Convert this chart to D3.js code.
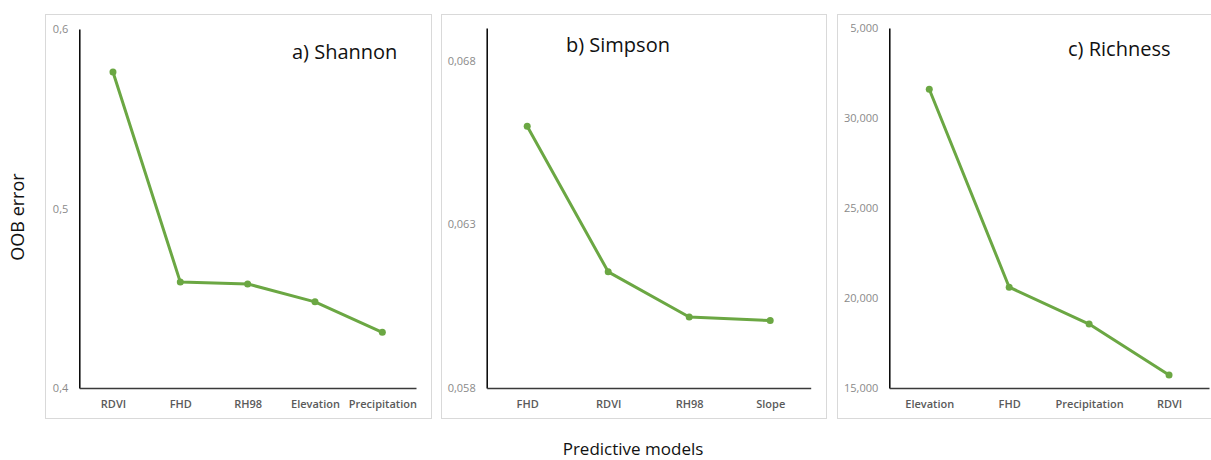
<!DOCTYPE html>
<html>
<head>
<meta charset="utf-8">
<script src="https://cdn.jsdelivr.net/npm/d3@7"></script>
<style>
  body { margin: 0; background: #fff; }
  svg { display: block; }
</style>
</head>
<body>
<svg id="chart" width="1211" height="460"></svg>
<script>
// data
var shannonModels = ["RDVI", "FHD", "RH98", "Elevation", "Precipitation"];
var shannonOOB = [0.576, 0.459, 0.458, 0.448, 0.431];
var shannonTicks = [0.4, 0.5, 0.6];

var simpsonModels = ["FHD", "RDVI", "RH98", "Slope"];
var simpsonOOB = [0.0660, 0.06155, 0.06017, 0.06006];
var simpsonTicks = [0.058, 0.063, 0.068];

var richnessModels = ["Elevation", "FHD", "Precipitation", "RDVI"];
var richnessOOB = [31600, 20600, 18550, 15720];
var richnessTicks = [15000, 20000, 25000, 30000, 35000];

var lineColor = "#6ba743";
var svg = d3.select("#chart");

var commaDec = function (f) {
  return function (d) { return d3.format(f)(d).replace(".", ","); };
};

var panels = [
  {
    name: "a) Shannon", models: shannonModels, values: shannonOOB, ticks: shannonTicks,
    domain: [0.4, 0.6], fmt: commaDec(".1f"),
    frame: [45, 14, 431, 418], plot: [79.3, 29, 416, 388], title: [292, 59]
  },
  {
    name: "b) Simpson", models: simpsonModels, values: simpsonOOB, ticks: simpsonTicks,
    domain: [0.058, 0.069], fmt: commaDec(".3f"),
    frame: [441, 14, 826, 418], plot: [486.7, 28, 810.7, 388], title: [566, 52]
  },
  {
    name: "c) Richness", models: richnessModels, values: richnessOOB, ticks: richnessTicks,
    domain: [15000, 35000], fmt: d3.format(",.0f"),
    frame: [837, 14, 1216, 418], plot: [889.3, 28, 1209, 388], title: [1068, 56]
  }
];

// the picture cuts the leading "3" off the top richness label
svg.append("clipPath").attr("id", "cutTop")
  .append("path").attr("d", "M850.5,0H1211V460H0V100H850.5Z");

panels.forEach(function (p, pi) {
  var g = svg.append("g");

  g.append("rect")
    .attr("x", p.frame[0] + 0.5)
    .attr("y", p.frame[1] + 0.5)
    .attr("width", p.frame[2] - p.frame[0])
    .attr("height", p.frame[3] - p.frame[1])
    .attr("fill", "none")
    .attr("stroke", "#d9d9d9")
    .attr("stroke-width", 1);

  var x = d3.scalePoint()
    .domain(p.models)
    .range([p.plot[0], p.plot[2]])
    .padding(0.5);

  var y = d3.scaleLinear()
    .domain(p.domain)
    .range([p.plot[3], p.plot[1]]);

  // y axis
  var yWrap = g.append("g");
  if (pi === 2) yWrap.attr("clip-path", "url(#cutTop)");
  var yAxis = yWrap.append("g")
    .attr("transform", "translate(" + p.plot[0] + ",0)")
    .call(d3.axisLeft(y).tickValues(p.ticks).tickFormat(p.fmt).tickSize(0).tickPadding(11));
  yAxis.select(".domain").attr("stroke", "#000").attr("stroke-width", 1.5);
  yAxis.selectAll("text")
    .attr("font-family", "Open Sans, sans-serif")
    .attr("font-size", 11)
    .attr("fill", "#8a8a8a");

  // x axis
  var xAxis = g.append("g")
    .attr("transform", "translate(0," + p.plot[3] + ")")
    .call(d3.axisBottom(x).tickSize(0).tickPadding(12));
  xAxis.select(".domain").attr("stroke", "#3a3a3a").attr("stroke-width", 1.5);
  xAxis.selectAll("text")
    .attr("font-family", "Open Sans, sans-serif")
    .attr("font-weight", 600)
    .attr("font-size", 11)
    .attr("fill", "#5a5a5a");

  var line = d3.line()
    .x(function (d, i) { return x(p.models[i]); })
    .y(function (d) { return y(d); });

  g.append("path")
    .datum(p.values)
    .attr("d", line)
    .attr("fill", "none")
    .attr("stroke", lineColor)
    .attr("stroke-width", 3)
    .attr("stroke-linejoin", "round");

  g.selectAll("circle")
    .data(p.values)
    .enter()
    .append("circle")
    .attr("cx", function (d, i) { return x(p.models[i]); })
    .attr("cy", function (d) { return y(d); })
    .attr("r", 3.5)
    .attr("fill", lineColor);

  g.append("text")
    .attr("x", p.title[0])
    .attr("y", p.title[1])
    .attr("font-family", "Open Sans, sans-serif")
    .attr("font-size", 20)
    .attr("fill", "#111")
    .text(p.name);
});

svg.append("text")
  .attr("transform", "translate(24,217) rotate(-90)")
  .attr("text-anchor", "middle")
  .attr("font-family", "Open Sans, sans-serif")
  .attr("font-size", 18)
  .attr("fill", "#111")
  .text("OOB error");

svg.append("text")
  .attr("x", 633)
  .attr("y", 455)
  .attr("text-anchor", "middle")
  .attr("font-family", "Open Sans, sans-serif")
  .attr("font-size", 17)
  .attr("fill", "#111")
  .text("Predictive models");
</script>
</body>
</html>
